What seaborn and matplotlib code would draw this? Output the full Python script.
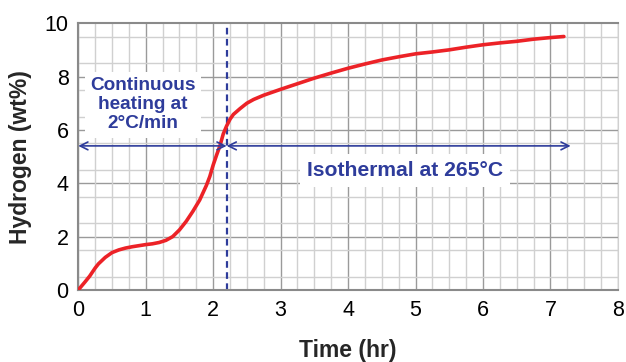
import numpy as np
import pandas as pd
import matplotlib
matplotlib.use("Agg")
import matplotlib.pyplot as plt
from matplotlib.ticker import MultipleLocator
import seaborn as sns

# hydrogen release curve
time_hr = [0, 0.05, 0.1, 0.17, 0.25, 0.3, 0.4, 0.5, 0.6, 0.7, 0.8, 0.9, 1.0, 1.1,
           1.2, 1.3, 1.4, 1.5, 1.6, 1.7, 1.8, 1.9, 1.95, 2.0, 2.05, 2.1, 2.15,
           2.2, 2.25, 2.3, 2.4, 2.5, 2.6, 2.75, 3.0, 3.25, 3.5, 3.75, 4.0, 4.25,
           4.5, 4.75, 5.0, 5.25, 5.5, 5.75, 6.0, 6.25, 6.5, 6.75, 7.0, 7.2]
hydrogen = [0, 0.15, 0.3, 0.52, 0.82, 0.98, 1.22, 1.4, 1.5, 1.57, 1.62, 1.66, 1.7, 1.73,
            1.78, 1.86, 2.0, 2.25, 2.57, 2.95, 3.37, 3.92, 4.25, 4.68, 5.05, 5.4, 5.85,
            6.15, 6.4, 6.58, 6.8, 7.0, 7.14, 7.3, 7.52, 7.73, 7.94, 8.13, 8.31, 8.47,
            8.62, 8.74, 8.85, 8.92, 9.0, 9.1, 9.19, 9.26, 9.32, 9.4, 9.46, 9.5]

switch_time = 2.2
arrow_level = 5.4
arrow_end = 7.3
x_ticks = [0, 1, 2, 3, 4, 5, 6, 7, 8]
y_ticks = [0, 1, 2, 3, 4, 5, 6, 7, 8, 9, 10]
y_tick_labels = ["0", "", "2", "", "4", "", "6", "", "8", "", "10"]

RED = "#ec2227"
BLUE = "#2e3c9b"

sns.set_style("white")
plt.rcParams["font.family"] = ["Liberation Sans", "DejaVu Sans"]

df = pd.DataFrame({"Time (hr)": time_hr, "Hydrogen (wt%)": hydrogen})

fig, ax = plt.subplots(figsize=(6.26, 3.62), dpi=100)
fig.subplots_adjust(left=0.125, right=0.987, top=0.936, bottom=0.199)

# graph-paper grid
ax.xaxis.set_minor_locator(MultipleLocator(0.25))
ax.yaxis.set_minor_locator(MultipleLocator(0.5))
ax.grid(which="minor", color="#d0d0d0", lw=1.0, zorder=0)
ax.grid(which="major", axis="x", color="#9a9a9a", lw=1.0, zorder=0)
for yv in [2, 4, 6, 8]:
    ax.axhline(yv, color="#9a9a9a", lw=1.0, zorder=0.5)
ax.set_axisbelow(True)

sns.lineplot(data=df, x="Time (hr)", y="Hydrogen (wt%)", color=RED, lw=2.6, ax=ax, zorder=3)

ax.axvline(switch_time, color=BLUE, ls=(0, (3, 2)), lw=1.6, zorder=2)

arrow = dict(arrowstyle="<->", color=BLUE, lw=1.2, shrinkA=0, shrinkB=0,
             mutation_scale=14)
ax.annotate("", xy=(0, arrow_level), xytext=(switch_time, arrow_level),
            arrowprops=arrow, zorder=4)
ax.annotate("", xy=(switch_time, arrow_level), xytext=(arrow_end, arrow_level),
            arrowprops=arrow, zorder=4)

ax.text(0.96, 6.94, "Continuous\nheating at\n2°C/min", color=BLUE, fontsize=13.7,
        fontweight="bold", ha="center", va="center", linespacing=1.15,
        bbox=dict(facecolor="white", edgecolor="none", pad=4), zorder=5)
ax.text(4.85, 4.48, "Isothermal at 265°C", color=BLUE, fontsize=15.2,
        fontweight="bold", ha="center", va="center",
        bbox=dict(facecolor="white", edgecolor="none", pad=5), zorder=5)

ax.set_xlim(0, 8)
ax.set_ylim(0, 10)
ax.set_xticks(x_ticks)
ax.set_yticks(y_ticks)
ax.set_yticklabels(y_tick_labels)
ax.tick_params(which="major", length=4, color="#888888", labelsize=15.5,
               labelcolor="black", pad=3)
ax.tick_params(which="minor", length=0)
ax.set_xlabel("Time (hr)", fontsize=16.5, fontweight="bold", labelpad=13)
ax.set_ylabel("Hydrogen (wt%)", fontsize=16.5, fontweight="bold", labelpad=9)

for side in ["top", "bottom", "left"]:
    ax.spines[side].set_color("#8a8a8a")
    ax.spines[side].set_linewidth(1.5)
ax.spines["right"].set_color("#d0d0d0")

fig.savefig("out.png", dpi=100)
